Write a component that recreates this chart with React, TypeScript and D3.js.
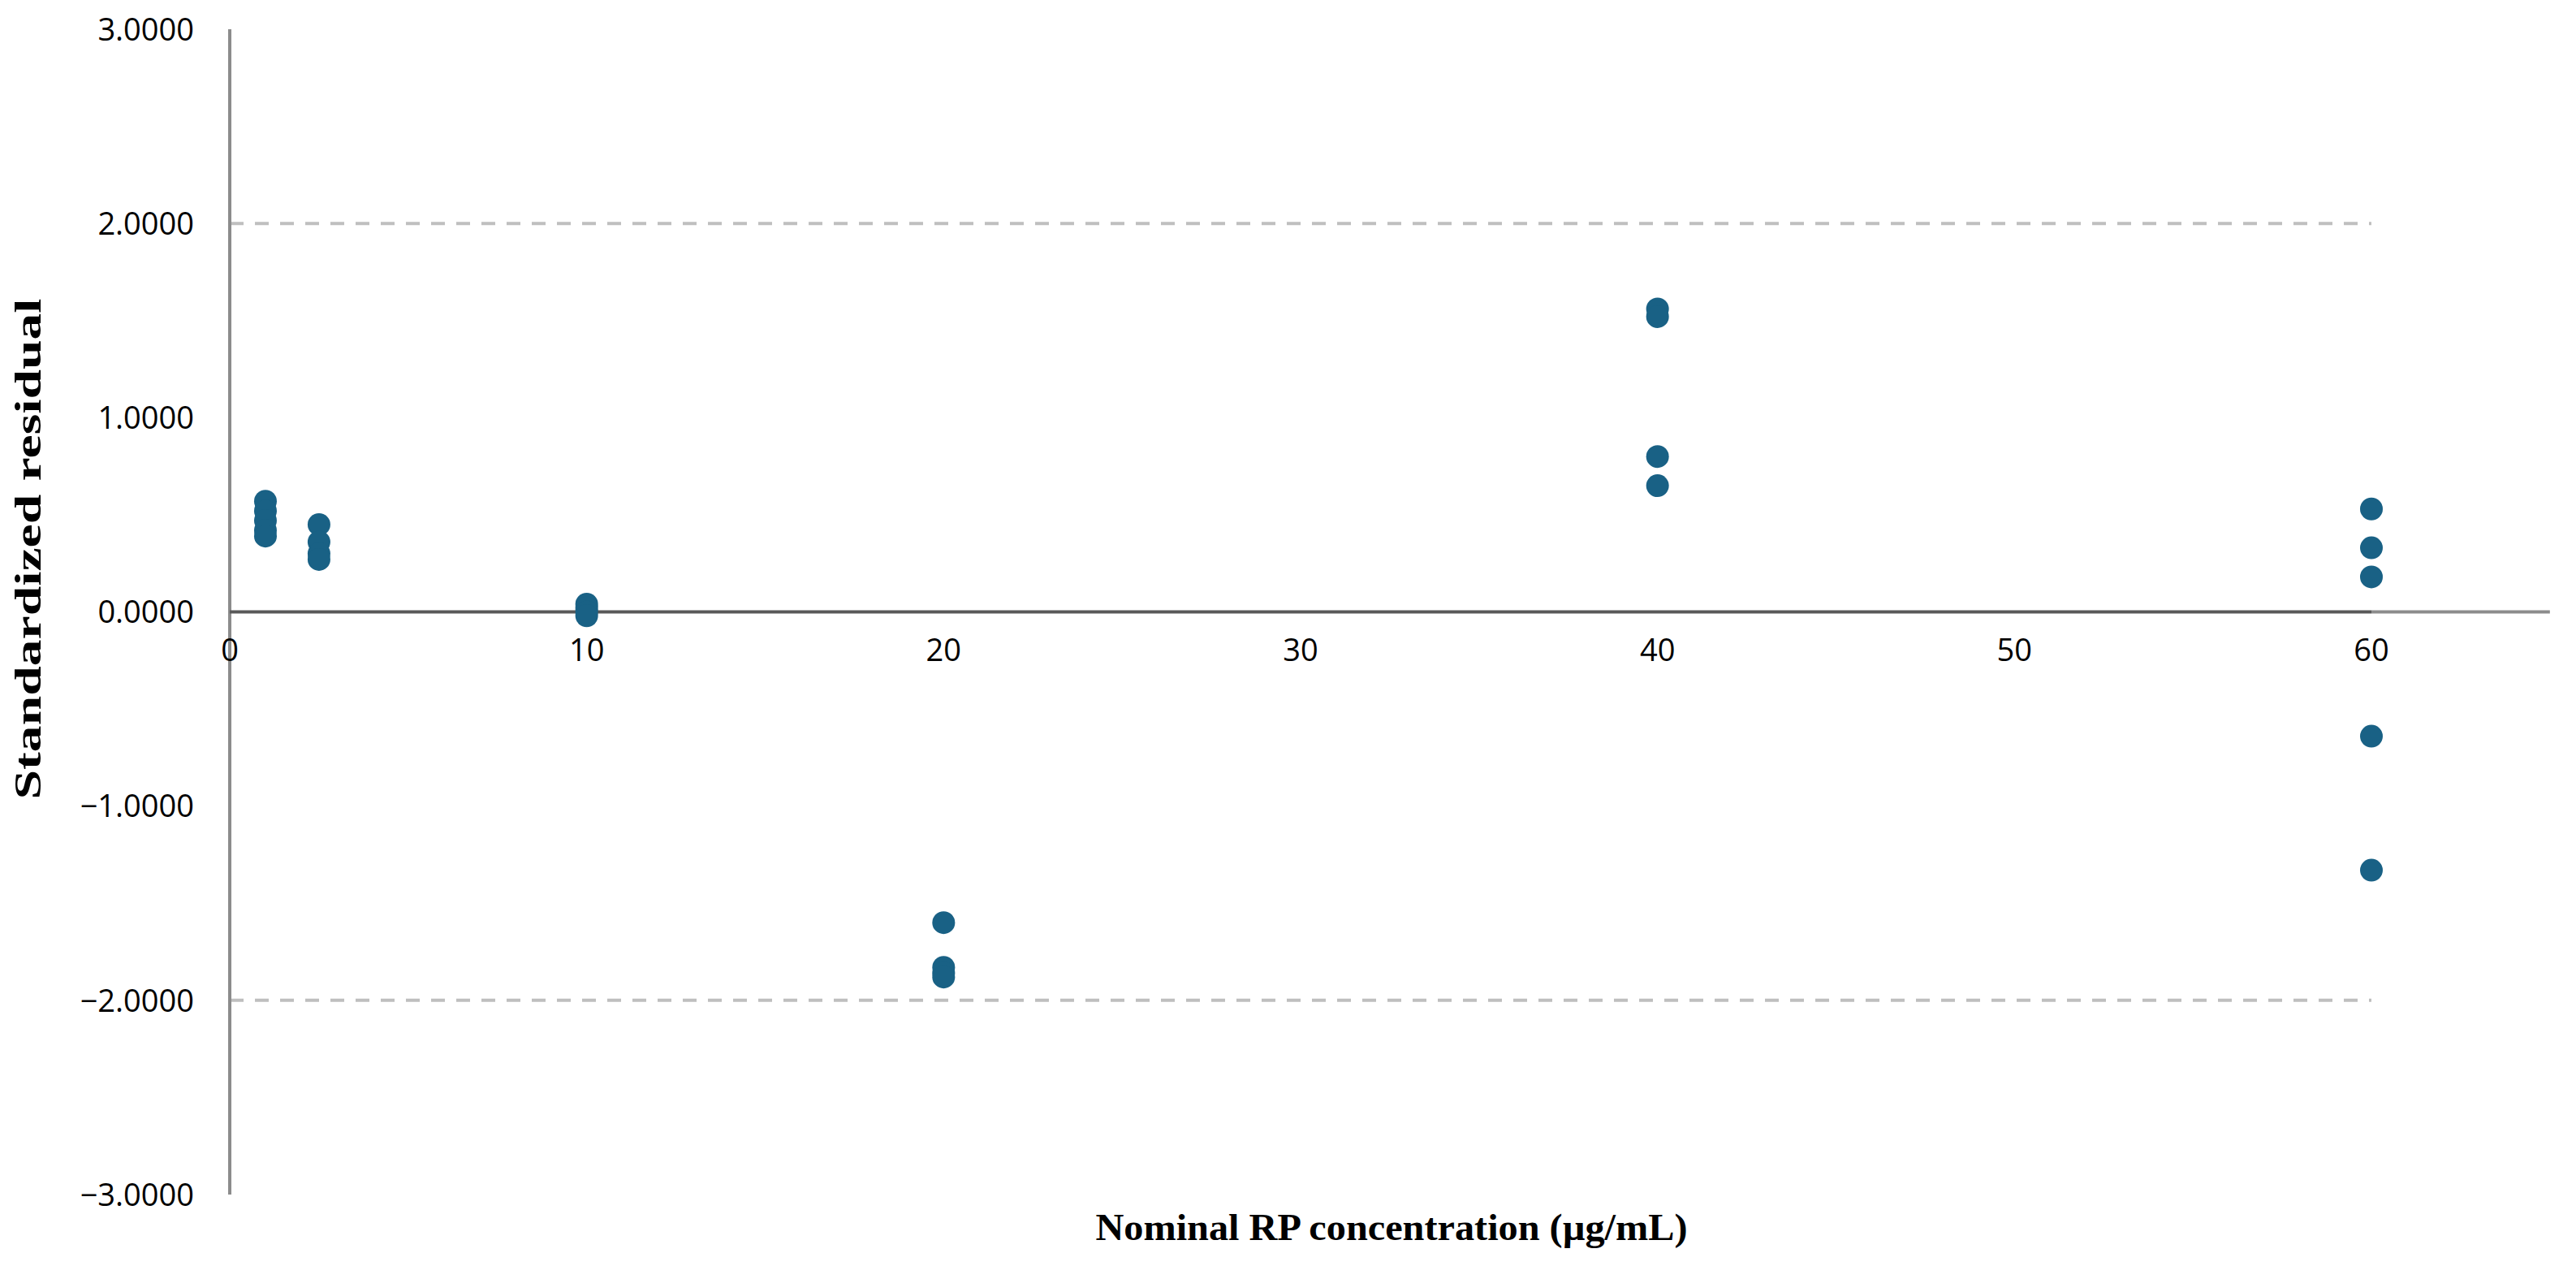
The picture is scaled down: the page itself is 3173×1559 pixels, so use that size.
import React from "react";
import * as d3 from "d3";

const conc = [1, 1, 1, 1, 1, 2.5, 2.5, 2.5, 2.5, 10, 10, 10, 10, 20, 20, 20, 20, 40, 40, 40, 40, 60, 60, 60, 60, 60];
const resid = [0.57, 0.52, 0.47, 0.42, 0.39, 0.45, 0.36, 0.30, 0.27, 0.04, 0.02, 0.0, -0.02, -1.60, -1.83, -1.86, -1.88, 1.56, 1.52, 0.80, 0.65, 0.53, 0.33, 0.18, -0.64, -1.33];
const yTicks = [3, 2, 1, 0, -1, -2, -3];
const xTicks = [0, 10, 20, 30, 40, 50, 60];
const limits = [2, -2];

export default function App() {
  const W = 3173, H = 1559;
  const x = d3.scaleLinear().domain([0, 60]).range([283, 2921]);
  const y = d3.scaleLinear().domain([-3, 3]).range([1471, 36]);
  const xEnd = x(65);
  const fmt = (v: number) => (v < 0 ? "\u2212" : "") + Math.abs(v).toFixed(4);
  return (
    <svg width={W} height={H} style={{ position: "absolute", left: 0, top: 0, background: "#fff" }}>
      {limits.map((l) => (
        <line key={l} x1={x(0)} x2={x(60)} y1={y(l)} y2={y(l)} stroke="#bfbfbf" strokeWidth={4} strokeDasharray="17 14" />
      ))}
      <line x1={x(0)} x2={x(0)} y1={y(3)} y2={y(-3)} stroke="#8c8c8c" strokeWidth={4} />
      <line x1={x(60)} x2={xEnd} y1={y(0)} y2={y(0)} stroke="#8c8c8c" strokeWidth={4} />
      <line x1={x(0)} x2={x(60)} y1={y(0)} y2={y(0)} stroke="#595959" strokeWidth={4} />
      {yTicks.map((t) => (
        <text key={t} x={x(0) - 44} y={y(t)} dy="0.36em" textAnchor="end" fontFamily="'Open Sans', sans-serif" fontSize={38} fill="#000">
          {fmt(t)}
        </text>
      ))}
      {xTicks.map((t) => (
        <text key={t} x={x(t)} y={y(0) + 60} textAnchor="middle" fontFamily="'Open Sans', sans-serif" fontSize={38} fill="#000">
          {t}
        </text>
      ))}
      {conc.map((c, i) => (
        <circle key={i} cx={x(c)} cy={y(resid[i])} r={14} fill="#196185" />
      ))}
      <text x={1714} y={1527} textAnchor="middle" fontFamily="'Liberation Serif', serif" fontWeight="bold" fontSize={46} textLength={729} lengthAdjust="spacingAndGlyphs">
        Nominal RP concentration (µg/mL)
      </text>
      <text transform={`translate(50, 676) rotate(-90)`} textAnchor="middle" fontFamily="'Liberation Serif', serif" fontWeight="bold" fontSize={46} textLength={617} lengthAdjust="spacingAndGlyphs">
        Standardized residual
      </text>
    </svg>
  );
}
